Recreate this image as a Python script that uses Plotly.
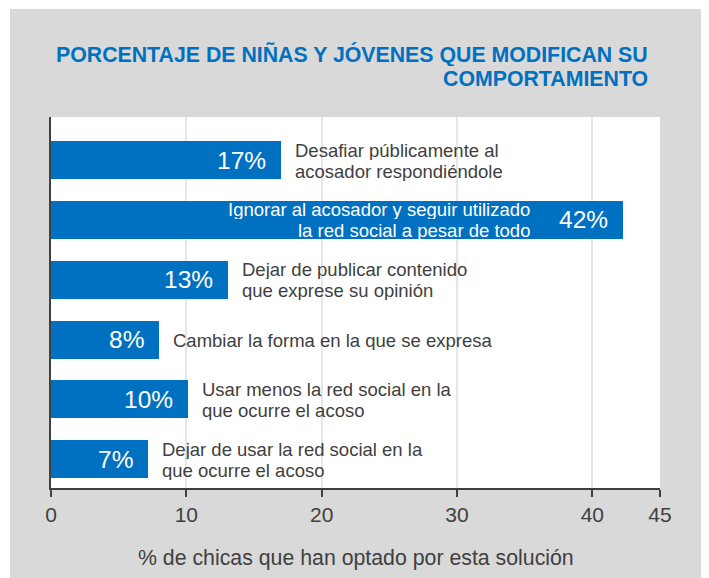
import plotly.graph_objects as go

# data
TITLE_LINES = ["PORCENTAJE DE NIÑAS Y JÓVENES QUE MODIFICAN SU", "COMPORTAMIENTO"]
LABELS = [
    "Desafiar públicamente al\nacosador respondiéndole",
    "Ignorar al acosador y seguir utilizado\nla red social a pesar de todo",
    "Dejar de publicar contenido\nque exprese su opinión",
    "Cambiar la forma en la que se expresa",
    "Usar menos la red social en la\nque ocurre el acoso",
    "Dejar de usar la red social en la\nque ocurre el acoso",
]
VALUES = [17.0, 42.3, 13.1, 8.0, 10.1, 7.2]
PCT_TEXT = ["17%", "42%", "13%", "8%", "10%", "7%"]
LABEL_INSIDE = [False, True, False, False, False, False]
TICKS = [0, 10, 20, 30, 40, 45]
XLABEL = "% de chicas que han optado por esta solución"

BLUE = "#0070C0"
DARK = "#404040"
FONT = "Liberation Sans, Arial, sans-serif"

pos = list(range(len(VALUES)))

fig = go.Figure()
fig.add_trace(go.Bar(
    x=VALUES, y=pos, orientation="h",
    marker=dict(color=BLUE, line=dict(width=0)),
    width=0.635, hoverinfo="skip",
))

ann = []
for i, (v, pct, lab, inside) in enumerate(zip(VALUES, PCT_TEXT, LABELS, LABEL_INSIDE)):
    ann.append(dict(x=v, y=i, xref="x", yref="y", text=pct, showarrow=False,
                    xanchor="right", yanchor="middle", xshift=-13,
                    font=dict(family=FONT, size=24.5, color="white")))
    lines = lab.split("\n")
    n = len(lines)
    for j, line in enumerate(lines):
        ys = (n - 1) / 2 * 21 - j * 21
        if inside:
            ann.append(dict(x=v, y=i, xref="x", yref="y", text=line, showarrow=False,
                            xanchor="right", yanchor="middle", xshift=-91, yshift=ys, height=20,
                            font=dict(family=FONT, size=18.5, color="white")))
        else:
            ann.append(dict(x=v, y=i, xref="x", yref="y", text=line, showarrow=False,
                            xanchor="left", yanchor="middle", xshift=12, yshift=ys, height=20,
                            font=dict(family=FONT, size=18.5, color=DARK)))

# title, right aligned, two lines
for j, line in enumerate(TITLE_LINES):
    ann.append(dict(x=(650 - 51) / 609, y=(488 - 54 - j * 25) / 371, xref="paper", yref="paper",
                    text="<b>%s</b>" % line, showarrow=False, xanchor="right", yanchor="middle",
                    height=24, font=dict(family=FONT, size=21.3, color=BLUE)))

ann.append(dict(x=0.5, y=(488 - 558) / 371, xref="paper", yref="paper", text=XLABEL,
                showarrow=False, xanchor="center", yanchor="middle",
                font=dict(family=FONT, size=21.3, color=DARK)))

shapes = [
    dict(type="rect", xref="paper", yref="paper", layer="below",
         x0=(10 - 51) / 609, x1=(703 - 51) / 609, y0=-0.4, y1=(488 - 9) / 371,
         fillcolor="#D9D9D9", line=dict(width=0)),
    dict(type="rect", xref="paper", yref="paper", layer="below",
         x0=0, x1=1, y0=0, y1=1, fillcolor="white", line=dict(width=0)),
]

# page body has an 8px margin, so the figure is a bit smaller than the window
fig.update_layout(
    width=701, height=570,
    margin=dict(l=43, r=49, t=109, b=90),
    paper_bgcolor="white", plot_bgcolor="rgba(0,0,0,0)",
    showlegend=False, bargap=0,
    annotations=ann, shapes=shapes,
    font=dict(family=FONT, color=DARK),
)
fig.update_xaxes(range=[0, 45], tickvals=TICKS, ticks="outside", ticklen=7, tickwidth=2,
                 tickcolor=DARK, showline=True, linecolor=DARK, linewidth=2,
                 showgrid=True, gridcolor="#E6E6E6", gridwidth=2, zeroline=False,
                 tickfont=dict(family=FONT, size=21, color=DARK), fixedrange=True)
fig.update_yaxes(range=[5.48, -0.72], showticklabels=False, showgrid=False, zeroline=False,
                 showline=True, linecolor=DARK, linewidth=2, ticks="", fixedrange=True)

fig.write_html("out.html")
